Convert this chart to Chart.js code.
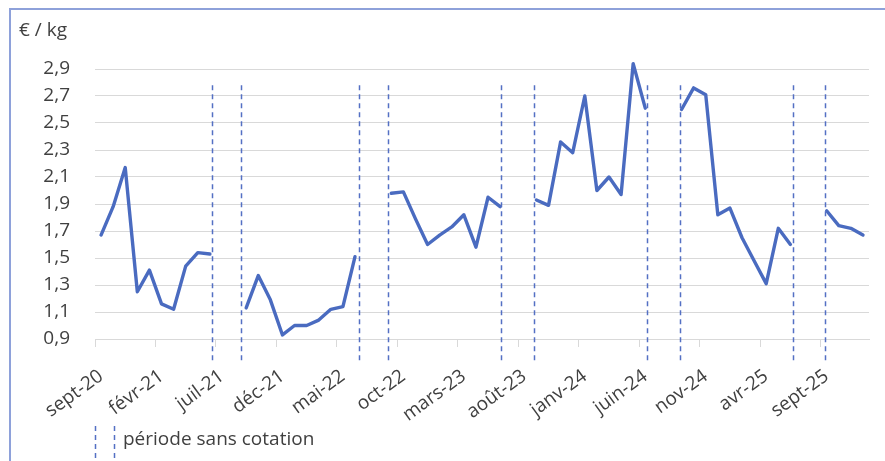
<!DOCTYPE html>
<html lang="fr">
<head>
<meta charset="utf-8">
<title>Prix € / kg</title>
<script src="https://cdn.jsdelivr.net/npm/chart.js@4/dist/chart.umd.min.js"></script>
<style>
    html, body { margin: 0; padding: 0; background: #ffffff; }
    #wrap { position: relative; width: 885px; height: 461px; }
</style>
</head>
<body>
<div id="wrap"><canvas id="prixChart" width="885" height="461"></canvas></div>
<script>
const monthNames = ['janv', 'févr', 'mars', 'avr', 'mai', 'juin', 'juil', 'août', 'sept', 'oct', 'nov', 'déc'];

// sept-20 .. déc-25, one category per month
const categories = [];
for (let year = 2020; year <= 2025; year++) {
    monthNames.forEach((name, m) => {
        if (year === 2020 && m < 8) {
            return;
        }
        categories.push(`${name}-${String(year).slice(2)}`);
    });
}

// null = période sans cotation (juillet-août)
const prix = [
    1.67, 1.88, 2.17, 1.25, 1.41, 1.16, 1.12, 1.44, 1.54, 1.53,
    null, null,
    1.13, 1.37, 1.19, 0.93, 1.00, 1.00, 1.04, 1.12, 1.14, 1.51,
    null, null,
    1.98, 1.99, 1.79, 1.60, 1.67, 1.73, 1.82, 1.58, 1.95, 1.88,
    null, null,
    1.93, 1.89, 2.36, 2.28, 2.70, 2.00, 2.10, 1.97, 2.94, 2.61,
    null, null,
    2.60, 2.76, 2.71, 1.82, 1.87, 1.65, 1.48, 1.31, 1.72, 1.60,
    null, null,
    1.85, 1.74, 1.72, 1.67,
];

// dashed markers framing each gap, in category units
const sansCotation = [9.18, 11.58, 21.33, 23.73, 33.08, 35.81, 45.16, 47.89, 57.24, 59.89];

const yTicks = [0.9, 1.1, 1.3, 1.5, 1.7, 1.9, 2.1, 2.3, 2.5, 2.7, 2.9];

const lineColor = '#4a6bc0';
const dashColor = '#5470c4';
const textColor = '#404040';
const fontFamily = '"Open Sans", "DejaVu Sans", sans-serif';

const decorations = {
    id: 'decorations',
    beforeDraw(chart) {
        const { ctx } = chart;
        ctx.save();
        ctx.strokeStyle = '#8ea1da';
        ctx.lineWidth = 2;
        ctx.beginPath();
        ctx.moveTo(10, chart.height);
        ctx.lineTo(10, 9);
        ctx.lineTo(chart.width, 9);
        ctx.stroke();

        ctx.fillStyle = textColor;
        ctx.font = `19px ${fontFamily}`;
        ctx.textBaseline = 'alphabetic';
        ctx.fillText('€ / kg', 19, 36);
        ctx.restore();
    },
    afterDraw(chart) {
        const { ctx, scales } = chart;
        const top = scales.y.getPixelForValue(2.78);
        const bottom = scales.y.getPixelForValue(0.74);

        ctx.save();
        ctx.strokeStyle = dashColor;
        ctx.lineWidth = 1.5;
        ctx.setLineDash([5, 4]);
        sansCotation.forEach((pos) => {
            const x = Math.round(scales.x.getPixelForValue(pos)) + 0.5;
            ctx.beginPath();
            ctx.moveTo(x, top);
            ctx.lineTo(x, bottom);
            ctx.stroke();
        });

        // légende
        [95.5, 114.5].forEach((x) => {
            ctx.beginPath();
            ctx.moveTo(x, 426);
            ctx.lineTo(x, 461);
            ctx.stroke();
        });
        ctx.setLineDash([]);
        ctx.fillStyle = textColor;
        ctx.font = `19px ${fontFamily}`;
        ctx.textBaseline = 'middle';
        ctx.fillText('période sans cotation', 123, 440);
        ctx.restore();
    },
};

new Chart(document.getElementById('prixChart'), {
    type: 'line',
    data: {
        labels: categories,
        datasets: [{
            label: 'Prix',
            data: prix,
            borderColor: lineColor,
            borderWidth: 3.4,
            borderJoinStyle: 'round',
            borderCapStyle: 'round',
            pointRadius: 0,
            tension: 0,
            spanGaps: false,
            clip: false,
        }],
    },
    options: {
        responsive: false,
        animation: false,
        layout: {
            padding: { top: 69, right: 16, bottom: 0, left: 0 },
        },
        plugins: {
            legend: { display: false },
            tooltip: { enabled: false },
        },
        scales: {
            x: {
                offset: true,
                afterFit: (scale) => {
                    scale.height = 122;
                    scale.paddingLeft = 0;
                    scale.paddingRight = 0;
                },
                grid: {
                    offset: true,
                    drawOnChartArea: false,
                    drawTicks: true,
                    tickLength: 8,
                    color: (ctx) => (ctx.index % 5 === 0 ? '#d9d9d9' : 'rgba(0,0,0,0)'),
                },
                border: { color: '#d9d9d9', width: 1 },
                ticks: {
                    autoSkip: false,
                    minRotation: 36,
                    maxRotation: 36,
                    padding: 18,
                    color: textColor,
                    font: { family: fontFamily, size: 19 },
                    callback: (value, index) => (index % 5 === 0 ? categories[index] : ''),
                },
            },
            y: {
                min: 0.9,
                max: 2.9,
                afterFit: (scale) => {
                    scale.width = 95;
                    scale.paddingTop = 0;
                    scale.paddingBottom = 0;
                },
                afterBuildTicks: (scale) => {
                    scale.ticks = yTicks.map((value) => ({ value }));
                },
                grid: {
                    color: '#d9d9d9',
                    lineWidth: 1,
                    drawTicks: false,
                },
                border: { display: false },
                ticks: {
                    padding: 25,
                    color: textColor,
                    font: { family: fontFamily, size: 19 },
                    callback: (value) => Number(value).toFixed(1).replace('.', ','),
                },
            },
        },
    },
    plugins: [decorations],
});
</script>
</body>
</html>
